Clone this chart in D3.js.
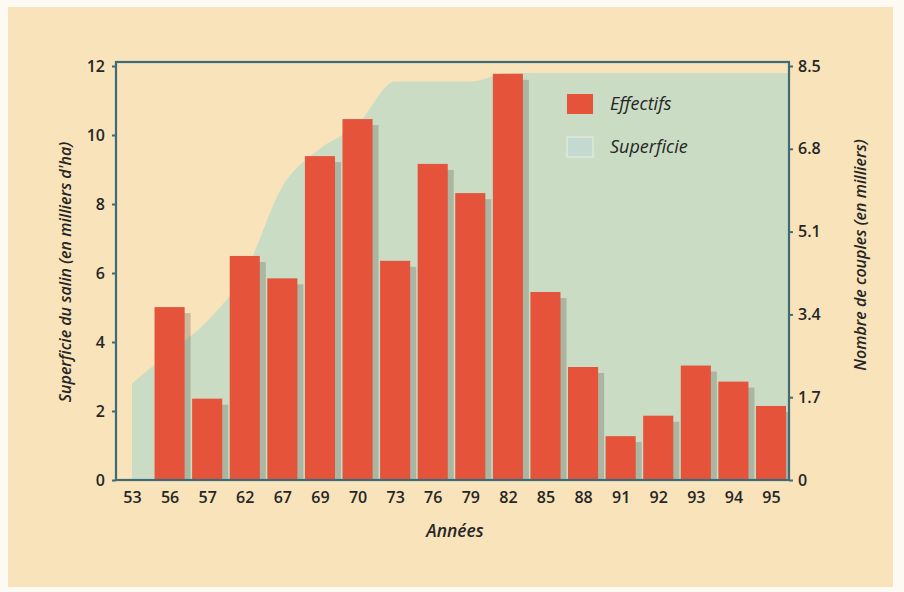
<!DOCTYPE html>
<html>
<head>
<meta charset="utf-8">
<script src="https://cdn.jsdelivr.net/npm/d3@7"></script>
<style>
  html, body { margin: 0; padding: 0; background: #fdfaf3; }
  svg { display: block; }
  text { font-family: "Open Sans", "Noto Sans", sans-serif; fill: #262626; }
</style>
</head>
<body>
<svg id="chart" width="904" height="592"></svg>
<script>
// ---- data ----
const years = ["53","56","57","62","67","69","70","73","76","79","82","85","88","91","92","93","94","95"];
// Effectifs (milliers de couples) - right axis; null for no bar
const effectifs = [null, 3.55, 1.67, 4.60, 4.14, 6.65, 7.41, 4.50, 6.49, 5.89, 8.34, 3.86, 2.32, 0.90, 1.32, 2.35, 2.02, 1.52];
// Superficie du salin (milliers d'ha) - left axis
const superficie = [2.8, 3.7, 4.6, 6.0, 8.5, 9.6, 10.3, 11.55, 11.55, 11.55, 11.8, 11.8, 11.8, 11.8, 11.8, 11.8, 11.8, 11.8];
const leftTicks = [0, 2, 4, 6, 8, 10, 12];
const rightTicks = [0, 1.7, 3.4, 5.1, 6.8, 8.5];
const legendItems = ["Effectifs", "Superficie"];

// ---- styles ----
const C = {
  paper: "#f8e3ba",
  area: "#cadcc4",
  bar: "#e4533a",
  frame: "#3d6b78",
  shadow: "rgba(95,95,80,0.30)",
  legendArea: "#c4d9cf"
};

const svg = d3.select("#chart");
svg.append("rect").attr("x", 8).attr("y", 7).attr("width", 885).attr("height", 580).attr("fill", C.paper);

const plot = { left: 116, right: 789, top: 62, bottom: 480 };

svg.append("clipPath").attr("id", "plotclip").append("rect")
  .attr("x", plot.left).attr("y", plot.top)
  .attr("width", plot.right - plot.left).attr("height", plot.bottom - plot.top);

const x = d3.scalePoint().domain(years).range([132, 771]);
const step = x.step();
const barW = step * 0.8;
const yL = d3.scaleLinear().domain([0, 12]).range([plot.bottom, 66]);
const yR = d3.scaleLinear().domain([0, 8.5]).range([plot.bottom, 66]);

// area (superficie)
const areaData = years.map((y, i) => ({ x: x(y), v: superficie[i] }));
areaData.push({ x: plot.right, v: superficie[superficie.length - 1] });
const area = d3.area()
  .x(d => d.x)
  .y0(yL(0))
  .y1(d => yL(d.v))
  .curve(d3.curveMonotoneX);
svg.append("path").datum(areaData).attr("d", area).attr("fill", C.area);

// bar shadows
const barData = years.map((y, i) => ({ year: y, v: effectifs[i] })).filter(d => d.v != null);
svg.append("g").attr("clip-path", "url(#plotclip)").selectAll("rect").data(barData).join("rect")
  .attr("x", d => x(d.year) - barW / 2 + 6)
  .attr("y", d => yR(d.v) + 6)
  .attr("width", barW)
  .attr("height", d => yR(0) - yR(d.v) - 6)
  .attr("fill", C.shadow);

// bars
svg.append("g").selectAll("rect").data(barData).join("rect")
  .attr("x", d => x(d.year) - barW / 2)
  .attr("y", d => yR(d.v))
  .attr("width", barW)
  .attr("height", d => yR(0) - yR(d.v))
  .attr("fill", C.bar);

// frame
svg.append("rect")
  .attr("x", plot.left).attr("y", plot.top)
  .attr("width", plot.right - plot.left).attr("height", plot.bottom - plot.top)
  .attr("fill", "none").attr("stroke", C.frame).attr("stroke-width", 2.2);

// left axis
const gL = svg.append("g").attr("transform", `translate(${plot.left},0)`)
  .call(d3.axisLeft(yL).tickValues(leftTicks).tickSize(4).tickPadding(7).tickFormat(d3.format("d")));
gL.select(".domain").remove();
gL.selectAll("line").attr("stroke", C.frame).attr("stroke-width", 2);
gL.selectAll("text").attr("font-size", 16).attr("font-weight", 600).style("font-family", '"Open Sans", sans-serif').attr("fill", "#262626");

// right axis
const fmtR = d => d === 0 ? "0" : d3.format(".1f")(d);
const gR = svg.append("g").attr("transform", `translate(${plot.right},0)`)
  .call(d3.axisRight(yR).tickValues(rightTicks).tickSize(4).tickPadding(5).tickFormat(fmtR));
gR.select(".domain").remove();
gR.selectAll("line").attr("stroke", C.frame).attr("stroke-width", 2);
gR.selectAll("text").attr("font-size", 16).attr("font-weight", 600).style("font-family", '"Open Sans", sans-serif').attr("fill", "#262626");

// bottom axis labels
const gX = svg.append("g").attr("transform", `translate(0,${plot.bottom})`)
  .call(d3.axisBottom(x).tickSize(0).tickPadding(12));
gX.select(".domain").remove();
gX.selectAll("text").attr("font-size", 16).attr("font-weight", 600).style("font-family", '"Open Sans", sans-serif').attr("fill", "#262626");

// axis titles
svg.append("text").attr("x", 455).attr("y", 537).attr("text-anchor", "middle")
  .attr("font-size", 17.5).attr("font-style", "italic").attr("font-weight", 600).text("Années");
svg.append("text").attr("transform", "translate(71,272) rotate(-90)").attr("text-anchor", "middle")
  .attr("font-size", 16).attr("font-style", "italic").attr("font-weight", 600).text("Superficie du salin (en milliers d'ha)");
svg.append("text").attr("transform", "translate(866,255) rotate(-90)").attr("text-anchor", "middle")
  .attr("font-size", 16).attr("font-style", "italic").attr("font-weight", 600).text("Nombre de couples (en milliers)");

// legend
const lg = svg.append("g").attr("transform", "translate(567,94)");
const legColors = [C.bar, C.legendArea];
legendItems.forEach((name, i) => {
  const g = lg.append("g").attr("transform", `translate(0,${i * 43})`);
  g.append("rect").attr("width", 26).attr("height", 20)
    .attr("fill", legColors[i])
    .attr("stroke", i === 1 ? "#dfe9d9" : "none").attr("stroke-width", 1.5);
  g.append("text").attr("x", 43).attr("y", 16).attr("font-size", 18)
    .attr("font-style", "italic").attr("font-weight", 500).text(name);
});
</script>
</body>
</html>
